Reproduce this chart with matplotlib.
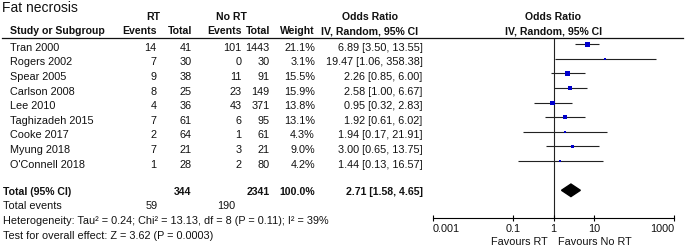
import matplotlib.pyplot as plt
import matplotlib.transforms as mtransforms
from matplotlib.lines import Line2D
import numpy as np

plt.rcParams["font.family"] = ["Liberation Sans", "DejaVu Sans"]

# Study level data (fat necrosis, RT vs no RT).
studies = [
    "Tran 2000", "Rogers 2002", "Spear 2005", "Carlson 2008", "Lee 2010",
    "Taghizadeh 2015", "Cooke 2017", "Myung 2018", "O'Connell 2018",
]
rt_events = [14, 7, 9, 8, 4, 7, 2, 7, 1]
rt_total = [41, 30, 38, 25, 36, 61, 64, 21, 28]
no_rt_events = [101, 0, 11, 23, 43, 6, 1, 3, 2]
no_rt_total = [1443, 30, 91, 149, 371, 95, 61, 21, 80]
weights = [21.1, 3.1, 15.5, 15.9, 13.8, 13.1, 4.3, 9.0, 4.2]
odds_ratio = [6.89, 19.47, 2.26, 2.58, 0.95, 1.92, 1.94, 3.00, 1.44]
ci_low = [3.50, 1.06, 0.85, 1.00, 0.32, 0.61, 0.17, 0.65, 0.13]
ci_high = [13.55, 358.38, 6.00, 6.67, 2.83, 6.02, 21.91, 13.75, 16.57]

# Pooled result.
total_rt = 344
total_no_rt = 2341
total_weight = 100.0
events_rt = 59
events_no_rt = 190
pooled_or = 2.71
pooled_low = 1.58
pooled_high = 4.65
heterogeneity = "Heterogeneity: Tau² = 0.24; Chi² = 13.13, df = 8 (P = 0.11); I² = 39%"
overall_effect = "Test for overall effect: Z = 3.62 (P = 0.0003)"

axis_ticks = [0.001, 0.1, 1, 10, 1000]
axis_labels = ["0.001", "0.1", "1", "10", "1000"]

W, H = 685, 247
ROW0, ROW_STEP = 44.3, 14.6
TEXT_DROP = 6.4
FS = 7.8
FS_BOLD = 7.6
INK = "#111111"


def main():
    fig = plt.figure(figsize=(W / 100, H / 100), dpi=100)

    # Pixel coordinates, origin top-left.
    pix = mtransforms.Affine2D().scale(1 / W, -1 / H).translate(0, 1) + fig.transFigure

    def put(x, y, s, ha="right", bold=False, size=None):
        fig.text(
            x, y, s, transform=pix, ha=ha, va="baseline", color=INK,
            fontsize=size or (FS_BOLD if bold else FS),
            fontweight="bold" if bold else "normal",
        )

    # Forest plot axes.
    top_px, bottom_px = 38.0, 217.7
    left_px, right_px = 432.7, 674.3
    ax = fig.add_axes([
        left_px / W, 1 - bottom_px / H,
        (right_px - left_px) / W, (bottom_px - top_px) / H,
    ])
    ax.set_xscale("log")
    ax.set_xlim(axis_ticks[0], axis_ticks[-1])
    ax.set_ylim((bottom_px - ROW0) / ROW_STEP, (top_px - ROW0) / ROW_STEP)
    ax.patch.set_alpha(0)
    for side in ["top", "left", "right"]:
        ax.spines[side].set_visible(False)
    ax.spines["bottom"].set_linewidth(0.8)
    ax.set_yticks([])
    ax.set_xticks(axis_ticks)
    ax.set_xticklabels(axis_labels, fontsize=FS, color=INK)
    ax.xaxis.set_minor_locator(plt.NullLocator())
    ax.tick_params(axis="x", direction="inout", length=4.3, width=0.8, pad=2.7)
    labels = ax.get_xticklabels()
    labels[0].set_ha("left")
    labels[-1].set_ha("right")

    rows = np.arange(len(studies))
    ax.axvline(1, color="#222222", lw=0.8, zorder=1)
    ax.hlines(rows, ci_low, ci_high, color="#222222", lw=0.8, zorder=2)
    side_pt = 5.3 * np.sqrt(np.array(weights) / 21.1) * 0.72
    ax.scatter(odds_ratio, rows, s=side_pt ** 2, marker="s", color="#0000CC",
               linewidths=0, zorder=3)

    total_row = len(studies) + 1
    half = 0.43
    ax.fill(
        [pooled_low, pooled_or, pooled_high, pooled_or],
        [total_row, total_row - half, total_row, total_row + half],
        color="black", zorder=3,
    )

    ax.annotate("Favours RT", xy=(1, 0), xycoords=("data", "axes fraction"),
                xytext=(-5.6, -27.3), textcoords="offset pixels",
                ha="right", va="baseline", fontsize=FS, color=INK)
    ax.annotate("Favours No RT", xy=(1, 0), xycoords=("data", "axes fraction"),
                xytext=(4.5, -27.3), textcoords="offset pixels",
                ha="left", va="baseline", fontsize=FS, color=INK)

    # Title and headers.
    put(2, 12.5, "Fat necrosis", ha="left", size=10)
    put(153, 20.5, "RT", ha="center", bold=True)
    put(231, 20.5, "No RT", ha="center", bold=True)
    put(370, 20.5, "Odds Ratio", ha="center", bold=True)
    put(553.3, 20.5, "Odds Ratio", ha="center", bold=True)
    put(10, 34.5, "Study or Subgroup", ha="left", bold=True)
    put(157, 34.5, "Events", bold=True)
    put(192, 34.5, "Total", bold=True)
    put(242, 34.5, "Events", bold=True)
    put(270, 34.5, "Total", bold=True)
    put(315, 34.5, "Weight", bold=True)
    put(370, 34.5, "IV, Random, 95% CI", ha="center", bold=True)
    put(553.3, 34.5, "IV, Random, 95% CI", ha="center", bold=True)
    fig.add_artist(Line2D([2 / W, 683 / W], [1 - top_px / H] * 2,
                          transform=fig.transFigure, color="#111111", lw=0.9))

    # Study rows.
    for i in range(len(studies)):
        y = ROW0 + ROW_STEP * i + TEXT_DROP
        put(10, y, studies[i], ha="left")
        put(156.5, y, str(rt_events[i]))
        put(191.7, y, str(rt_total[i]))
        put(241.7, y, str(no_rt_events[i]))
        put(269.7, y, str(no_rt_total[i]))
        put(315, y, f"{weights[i]:.1f}%")
        put(422.7, y, f"{odds_ratio[i]:.2f} [{ci_low[i]:.2f}, {ci_high[i]:.2f}]")

    # Totals and footnotes.
    y = ROW0 + ROW_STEP * total_row + 4.7
    put(2.7, y, "Total (95% CI)", ha="left", bold=True)
    put(191.7, y, str(total_rt), bold=True)
    put(270, y, str(total_no_rt), bold=True)
    put(315, y, f"{total_weight:.1f}%", bold=True)
    put(422.7, y, f"{pooled_or:.2f} [{pooled_low:.2f}, {pooled_high:.2f}]", bold=True)
    put(2.7, 208.5, "Total events", ha="left")
    put(157.3, 208.5, str(events_rt))
    put(235, 208.5, str(events_no_rt))
    put(2.7, 224, heterogeneity, ha="left")
    put(2.7, 238.5, overall_effect, ha="left")

    fig.savefig("out.png", dpi=100)


if __name__ == "__main__":
    main()
